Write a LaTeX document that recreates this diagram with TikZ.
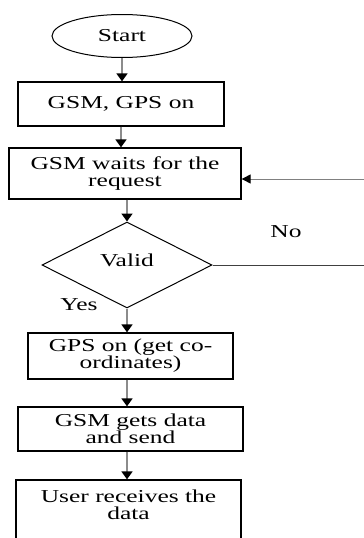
\documentclass[tikz,border=0pt]{standalone}
\usepackage{fontspec}
\setmainfont[FakeStretch=1.4]{Liberation Serif}
\usetikzlibrary{shapes.geometric,arrows.meta}

\tikzset{
  txt/.style={font=\fontsize{18.2}{17}\selectfont, text=black, align=center, inner sep=0pt},
  stepbox/.style={txt, draw=black, line width=1.3pt, minimum width=#1},
  flow/.style={draw=black!45, line width=1.8pt,
    -{Triangle[width=11pt,length=8pt,color=black,fill=black]}},
  loopline/.style={draw=black!75, line width=1pt}
}

\begin{document}
\begin{tikzpicture}[x=1pt,y=-1pt]
  \clip (0,0) rectangle (364,538);
  \fill[white] (0,0) rectangle (364,538);

  % terminator and process boxes
  \node[txt, ellipse, draw=black, line width=1pt, minimum width=140pt, minimum height=43pt]
    (start) at (122,36) {Start};
  \node[stepbox=206pt, minimum height=44pt] (on) at (121,104) {GSM, GPS on};
  \node[stepbox=232pt, minimum height=51pt] (wait) at (125,173.5) {GSM waits for the\\request};
  \node[txt, diamond, draw=black, line width=1pt, minimum width=170pt, minimum height=86pt]
    (valid) at (127,265) {\raisebox{10pt}{Valid}};
  \node[stepbox=205pt, minimum height=46pt] (gps) at (130.5,356) {GPS on (get co-\\ordinates)};
  \node[stepbox=225pt, minimum height=44pt] (send) at (130.5,429) {GSM gets data\\and send};
  \node[stepbox=225pt, minimum height=66pt] (user) at (128.5,513) {};
  \node[txt] (usertext) at (128.5,505) {User receives the\\data};

  % branch labels
  \node[txt] (no) at (286,232) {No};
  \node[txt] (yes) at (79,305) {Yes};

  % main flow
  \draw[flow] (start.south) -- (start.south |- on.north);
  \draw[flow] (on.south) -- (on.south |- wait.north);
  \draw[flow] (wait.south -| valid.north) -- (valid.north);
  \draw[flow] (valid.south) -- (valid.south |- gps.north);
  \draw[flow] (gps.south -| valid.south) -- (valid.south |- send.north);
  \draw[flow] (send.south -| 127,0) -- (127,0 |- user.north);

  % "No" branch returns to the waiting state
  \coordinate (back) at (372,179);
  \draw[loopline] (valid.east) -- (valid.east -| back) -- (back);
  \draw[draw=black!50, line width=1pt, -{Triangle[width=9pt,length=9pt,color=black,fill=black]}]
    (back) -- (back -| wait.east);
\end{tikzpicture}
\end{document}
